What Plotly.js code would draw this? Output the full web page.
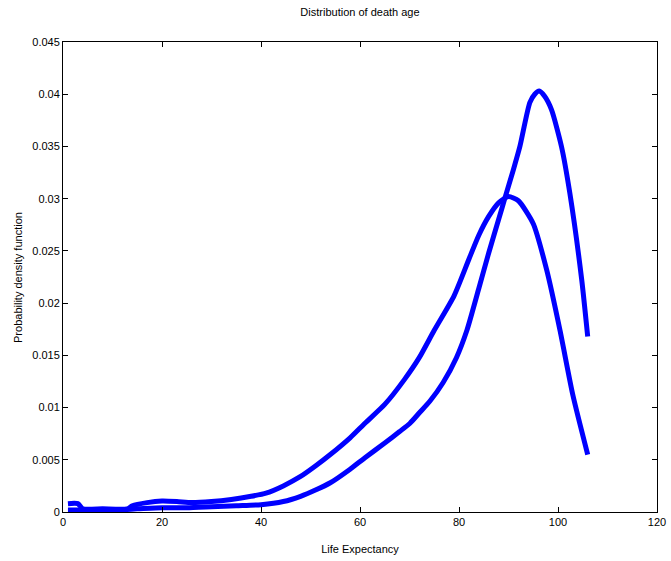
<!DOCTYPE html>
<html>
<head>
<meta charset="utf-8">
<script src="https://cdn.plot.ly/plotly-3.0.1.min.js"></script>
<style>html,body{margin:0;padding:0;background:#fff;}#chart{width:671px;height:561px;}</style>
</head>
<body>
<div id="chart"></div>
<script>
// Series A: broader distribution (peak ~0.030 at ~90)
const ageA = [1, 3, 4, 8, 13, 14, 17, 20, 23, 26, 30, 34, 38, 41, 44.5, 48, 51, 54, 58, 61, 65, 69, 72, 75, 79, 82, 84, 86, 88, 90, 92, 95, 97.7, 100.4, 103, 106];
const pdfA = [0.0008, 0.0008, 0.0003, 0.0003, 0.0003, 0.0006, 0.0009, 0.00105, 0.001, 0.0009, 0.001, 0.0012, 0.0015, 0.0018, 0.0025, 0.0034, 0.0044, 0.0055, 0.0071, 0.0085, 0.0103, 0.0127, 0.0148, 0.0174, 0.0207, 0.0242, 0.0265, 0.0283, 0.0296, 0.0302, 0.0298, 0.0276, 0.0232, 0.0174, 0.0112, 0.0055];

// Series B: narrower distribution (peak ~0.040 at ~96)
const ageB = [1, 5, 10, 15, 20, 25, 30, 35, 40, 44.5, 48, 51, 54, 58, 61, 65, 68, 70.1, 72, 74.1, 76.8, 79.5, 81.6, 84, 86, 88, 89.3, 91, 92.3, 94.3, 95.3, 96.2, 97.3, 98.7, 100.7, 102.4, 104.8, 106];
const pdfB = [0.0002, 0.0002, 0.0002, 0.0003, 0.0004, 0.0004, 0.0005, 0.0006, 0.0007, 0.001, 0.0015, 0.0021, 0.0028, 0.0041, 0.0052, 0.0066, 0.0077, 0.0085, 0.0095, 0.0106, 0.0124, 0.0148, 0.0174, 0.0214, 0.0248, 0.028, 0.0301, 0.0328, 0.035, 0.0392, 0.04, 0.0403, 0.0398, 0.0385, 0.035, 0.0305, 0.0222, 0.0168];

const xTicks = [0, 20, 40, 60, 80, 100, 120];
const yTicks = [0, 0.005, 0.01, 0.015, 0.02, 0.025, 0.03, 0.035, 0.04, 0.045];
const yTickText = ["0", "0.005", "0.01", "0.015", "0.02", "0.025", "0.03", "0.035", "0.04", "0.045"];

const lineStyle = {color: '#0000ff', width: 5, shape: 'spline', smoothing: 0.6};
const traces = [
  {x: ageA, y: pdfA, type: 'scatter', mode: 'lines', line: lineStyle, hoverinfo: 'none'},
  {x: ageB, y: pdfB, type: 'scatter', mode: 'lines', line: lineStyle, hoverinfo: 'none'}
];

const font = {family: 'Liberation Sans, Arial, sans-serif', size: 11, color: '#000'};
const axisCommon = {
  showline: true, linecolor: '#000', linewidth: 1, mirror: 'ticks',
  ticks: 'inside', ticklen: 5, tickcolor: '#000', tickwidth: 1,
  showgrid: false, zeroline: false, tickfont: font
};

const layout = {
  width: 671, height: 561,
  margin: {l: 63, r: 14, t: 42, b: 49},
  paper_bgcolor: '#fff', plot_bgcolor: '#fff',
  showlegend: false,
  font: font,
  title: {text: 'Distribution of death age', font: font, x: 0.5365, xanchor: 'center', y: 0.978, yanchor: 'middle'},
  xaxis: Object.assign({}, axisCommon, {
    range: [0, 120], tickvals: xTicks, ticktext: xTicks.map(String),
    title: {text: 'Life Expectancy', font: font, standoff: 18}
  }),
  yaxis: Object.assign({}, axisCommon, {
    range: [0, 0.045], tickvals: yTicks, ticktext: yTickText
  }),
  annotations: [{
    text: 'Probability density function', font: font, textangle: -90,
    xref: 'paper', yref: 'paper', x: -0.0758, y: 0.5, xanchor: 'center', yanchor: 'middle',
    showarrow: false
  }]
};

Plotly.newPlot('chart', traces, layout, {staticPlot: true, displayModeBar: false});
</script>
</body>
</html>
